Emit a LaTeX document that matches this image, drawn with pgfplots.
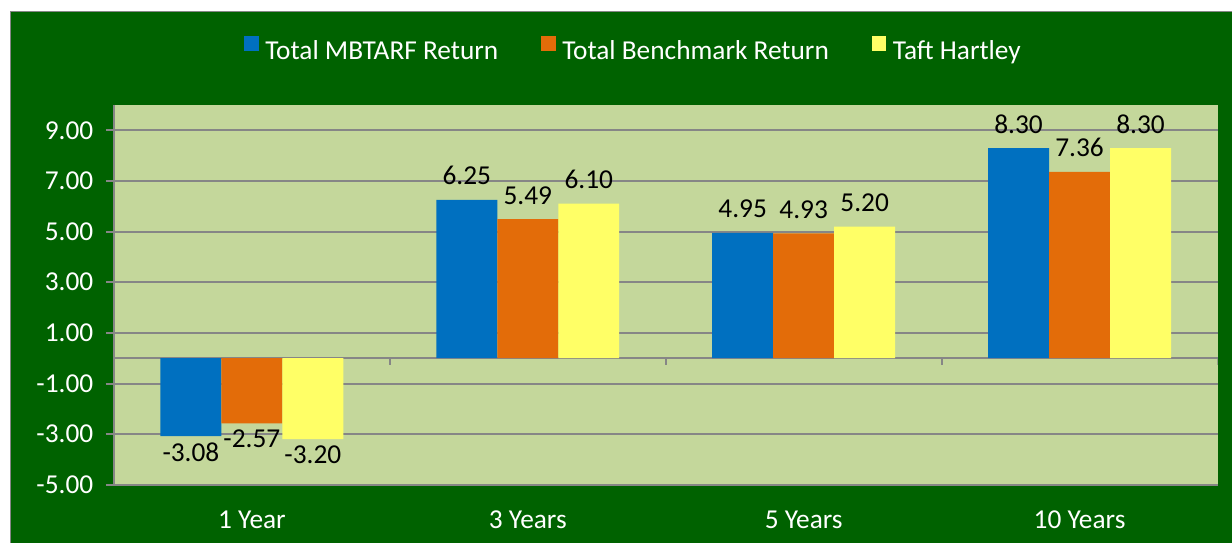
\documentclass[border=0pt]{standalone}
\usepackage{fontspec}
\setmainfont{Carlito}
\usepackage{pgfplots}
\pgfplotsset{compat=1.18}

\definecolor{bggreen}{RGB}{0,98,0}
\definecolor{plotgreen}{HTML}{C4D79B}
\definecolor{gridgray}{HTML}{868686}
\definecolor{mbtablue}{HTML}{0070C0}
\definecolor{benchorange}{HTML}{E36C09}
\definecolor{taftyellow}{HTML}{FFFF66}

\begin{document}
\begin{tikzpicture}[x=0.75pt,y=0.75pt]
% page and chart area
\fill[white] (0,0) rectangle (1232,543);
\fill[bggreen] (11,0) rectangle (1232,531);
\draw[gridgray, line width=0.75pt] (11,0) -- (11,531) -- (1232,531);

\begin{axis}[
  at={(85.5pt,43.5pt)}, anchor=south west,
  scale only axis,
  width=828pt, height=285pt,
  font=\fontsize{20.5}{24}\selectfont,
  xmin=-0.5, xmax=3.5,
  ymin=-5, ymax=10,
  ybar=0pt, bar width=0.221,
  axis background/.style={fill=plotgreen},
  axis x line*=bottom, axis y line*=left,
  axis line style={gridgray, line width=1.5pt},
  xtick={0,1,2,3},
  xticklabels={1 Year, 3 Years, 5 Years, 10 Years},
  xtick style={draw=none},
  xticklabel style={white, yshift=-10pt},
  ytick={-5,-3,-1,1,3,5,7,9},
  yticklabels={-5.00,-3.00,-1.00,1.00,3.00,5.00,7.00,9.00},
  yticklabel style={white, xshift=-6pt},
  tick align=outside,
  major tick length=6pt,
  ytick style={gridgray, line width=1.5pt},
  ymajorgrids,
  grid style={gridgray, line width=1.5pt},
  extra y ticks={0},
  extra y tick labels={},
  extra y tick style={grid=major, major tick length=0pt},
  point meta=explicit symbolic,
  visualization depends on={rawy \as \rawy},
  nodes near coords,
  every node near coord/.append style={black, inner sep=5pt, text depth=6pt,
    /utils/exec={\ifdim\rawy pt<0pt \def\labanchor{north}\else\def\labanchor{south}\fi},
    anchor=\labanchor},
  legend columns=-1,
  legend style={at={(0.471,1.145)}, anchor=center, draw=none, fill=none,
    text=white, font=\fontsize{20.5}{24}\selectfont,
    /tikz/every odd column/.append style={column sep=3pt},
    /tikz/every even column/.append style={column sep=30pt}},
  legend image code/.code={\fill[#1] (0pt,0pt) rectangle (11pt,11pt);},
]
\addplot[fill=mbtablue, draw=none] coordinates {
  (0,-3.08) [-3.08]
  (1,6.25) [6.25]
  (2,4.95) [4.95]
  (3,8.30) [8.30]
};
\addlegendentry{Total MBTARF Return}
\addplot[fill=benchorange, draw=none] coordinates {
  (0,-2.57) [-2.57]
  (1,5.49) [5.49]
  (2,4.93) [4.93]
  (3,7.36) [7.36]
};
\addlegendentry{Total Benchmark Return}
\addplot[fill=taftyellow, draw=none] coordinates {
  (0,-3.20) [-3.20]
  (1,6.10) [6.10]
  (2,5.20) [5.20]
  (3,8.30) [8.30]
};
\addlegendentry{Taft Hartley}
% category boundary ticks on the zero line
\draw[gridgray, line width=1.5pt] (axis cs:0.5,0) -- ++(0pt,-5.25pt);
\draw[gridgray, line width=1.5pt] (axis cs:1.5,0) -- ++(0pt,-5.25pt);
\draw[gridgray, line width=1.5pt] (axis cs:2.5,0) -- ++(0pt,-5.25pt);
\draw[gridgray, line width=1.5pt] (axis cs:3.5,0) -- ++(0pt,-5.25pt);
\end{axis}
\end{tikzpicture}
\end{document}
